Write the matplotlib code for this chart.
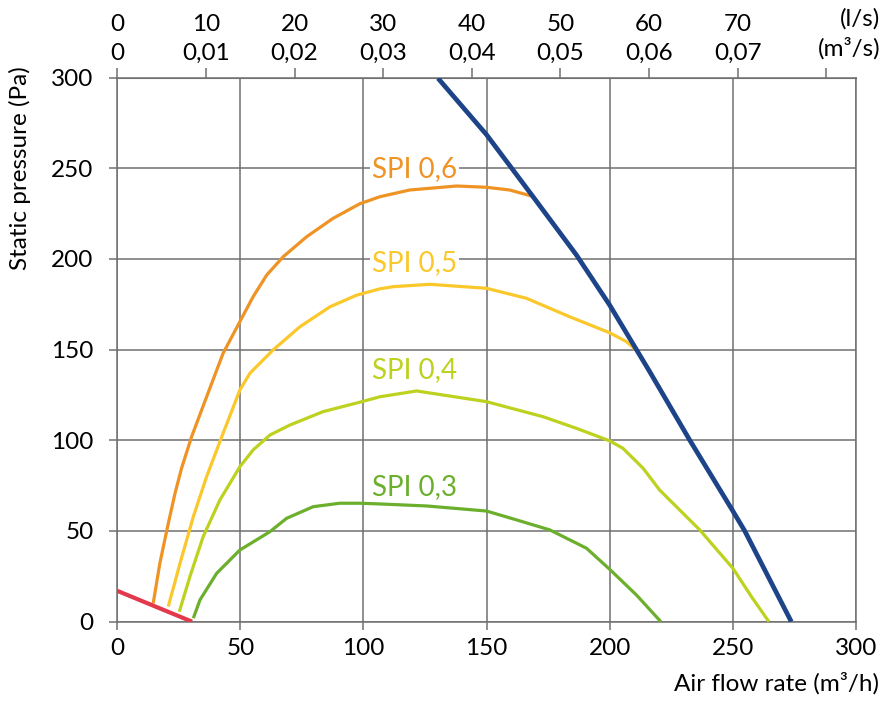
import numpy as np
import matplotlib.pyplot as plt

plt.rcParams['font.family'] = ['Lato', 'DejaVu Sans']

# fan curve and SPI curves, air flow (m3/h) vs static pressure (Pa)
fan_x = [130.3, 150, 168.9, 186.5, 200, 216.3, 232.5, 249.4, 254.9, 273.8]
fan_y = [299.6, 268.5, 234.3, 202.2, 174.6, 137.8, 100.2, 62.5, 50, 0]

sys_x = [0, 30.4]
sys_y = [17, 0]

spi6_x = [14.6, 17.3, 20.7, 23.5, 26.1, 30.2, 36.3, 43, 49.8, 55.2, 60.7, 67.4, 76.9, 87.7,
          98.5, 106.7, 118.8, 137.8, 150, 159.4, 168.2]
spi6_y = [10.1, 32.2, 54, 71, 84.5, 102, 124, 148, 165.4, 179.2, 191.1, 201.2, 212.2, 222.4,
          230.4, 234.3, 238, 240.2, 239.5, 238, 234.7]

spi5_x = [20.7, 25.5, 30.9, 36.3, 43, 49.8, 53.9, 63.3, 74.2, 86.4, 97.2, 106.7, 112.1,
          127, 150, 166.2, 183.8, 200, 206.8, 211.5]
spi5_y = [8.3, 32.2, 57.9, 80, 103.9, 127.7, 137, 149.8, 162.6, 173.6, 180, 183.5, 184.7,
          186, 183.8, 178.3, 168.1, 159.3, 154.4, 148.8]

spi4_x = [25.2, 29.5, 34.9, 41.7, 49.8, 55.2, 62, 70.1, 83.6, 98.5, 106.7, 121.6, 150,
          173, 186.5, 200, 205.4, 213.6, 220.3, 236.6, 250.1, 257.6, 264.7]
spi4_y = [5.5, 24.8, 46.9, 67.1, 85.4, 94.7, 102.9, 108.4, 115.8, 121, 124, 127.2, 121.3,
          113, 106.6, 99.7, 95.6, 84.6, 72.6, 50.6, 29.4, 13.8, 0]

spi3_x = [30.9, 33.6, 40.4, 49.8, 62, 68.8, 79.6, 90.4, 98.5, 106.7, 125.6, 150, 162.2,
          175.7, 190.6, 200, 210.9, 220.8]
spi3_y = [1.9, 12, 26.7, 39.5, 49.6, 57, 63.4, 65.3, 65.3, 64.9, 63.8, 61, 56.1,
          50.6, 40.5, 28.9, 14.7, 0]

spi_labels = ['SPI 0,6', 'SPI 0,5', 'SPI 0,4', 'SPI 0,3']
spi_label_y = [249.5, 198, 138.8, 74.4]

x_ticks = [0, 50, 100, 150, 200, 250, 300]
y_ticks = [0, 50, 100, 150, 200, 250, 300]
ls_ticks = [0, 10, 20, 30, 40, 50, 60, 70, 80]
ls_labels = ['0\n0', '10\n0,01', '20\n0,02', '30\n0,03', '40\n0,04',
             '50\n0,05', '60\n0,06', '70\n0,07', '']

c_orange = '#EE9324'
c_yellow = '#FAC82A'
c_lime = '#BDD11F'
c_green = '#6BAF2D'
c_blue = '#1D4488'
c_red = '#E23A4C'
c_grid = '#707070'

fig = plt.figure(figsize=(8.85, 7.05), dpi=100)
ax = fig.add_axes([0.1325, 0.1182, 0.8345, 0.7718])

for xs, ys, col in [(spi3_x, spi3_y, c_green), (spi4_x, spi4_y, c_lime),
                    (spi5_x, spi5_y, c_yellow), (spi6_x, spi6_y, c_orange)]:
    ax.plot(xs, ys, color=col, lw=2.3, solid_capstyle='butt',
            solid_joinstyle='round', zorder=3)
ax.plot(sys_x, sys_y, color=c_red, lw=3, solid_capstyle='butt', zorder=4)
ax.plot(fan_x, fan_y, color=c_blue, lw=3.4, solid_capstyle='butt',
        solid_joinstyle='round', zorder=5)

for lab, ly, col in zip(spi_labels, spi_label_y, [c_orange, c_yellow, c_lime, c_green]):
    ax.text(103.5, ly, lab, color=col, fontsize=20, ha='left', va='center', zorder=2,
            bbox=dict(facecolor='white', edgecolor='none', pad=1.5))

ax.set_xlim(0, 300)
ax.set_ylim(0, 300)
ax.set_xticks(x_ticks)
ax.set_yticks(y_ticks)
ax.grid(True, color=c_grid, lw=1.1, zorder=1)
ax.set_axisbelow(True)
for s in ax.spines.values():
    s.set_color(c_grid)
    s.set_linewidth(1.1)
ax.tick_params(length=6, width=1.1, color=c_grid, labelsize=17.5)
ax.tick_params(axis='x', pad=6)
ax.tick_params(axis='y', pad=11)

ax.set_xlabel('Air flow rate (m³/h)', fontsize=17.5)
ax.xaxis.set_label_coords(1.031, -0.113)
ax.xaxis.label.set_horizontalalignment('right')
ax.xaxis.label.set_verticalalignment('center')
ax.set_ylabel('Static pressure (Pa)', fontsize=17.5)
ax.yaxis.set_label_coords(-0.117, 0.834)

top = ax.secondary_xaxis('top', functions=(lambda v: v / 3.6, lambda v: v * 3.6))
top.set_xticks(ls_ticks)
top.set_xticklabels(ls_labels, fontsize=17.5, linespacing=1.45)
top.tick_params(length=7, width=1.1, color=c_grid, pad=3)
top.spines['top'].set_color(c_grid)

fig.text(0.9945, 0.974, '(l/s)', fontsize=17.5, ha='right', va='center')
fig.text(0.9945, 0.932, '(m³/s)', fontsize=17.5, ha='right', va='center')

fig.savefig('out.png', dpi=100)
